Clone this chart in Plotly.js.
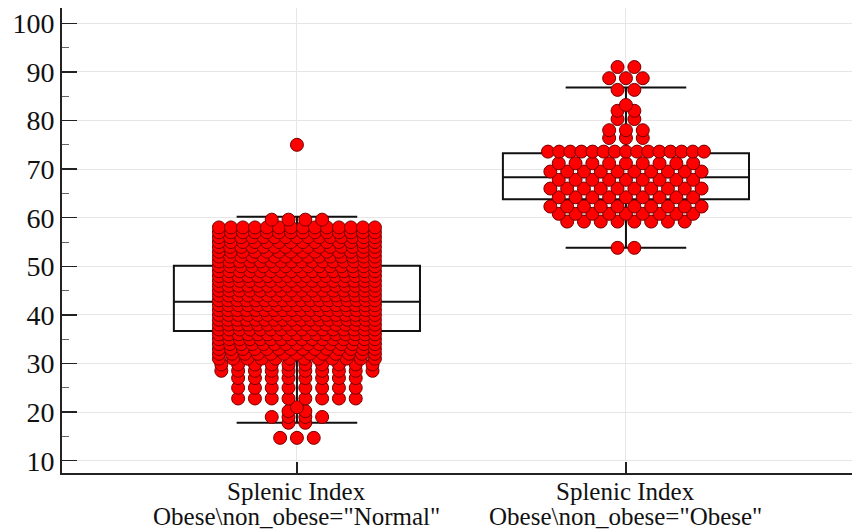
<!DOCTYPE html>
<html><head><meta charset="utf-8">
<script src="https://cdn.plot.ly/plotly-3.0.1.min.js"></script>
<style>html,body{margin:0;padding:0;background:#fff}#chart{width:852px;height:531px}</style>
</head><body><div id="chart"></div>
<script>
// ---- data ----
const categoryLine1 = ['Splenic Index', 'Splenic Index'];
const categoryLine2 = ['Obese\\non_obese="Normal"', 'Obese\\non_obese="Obese"'];
const categoryPos = [0, 1];

// dot-plot values (level) and how many observations sit at each level
const normalLevels = [14.7, 17.8, 19.0, 20.2, 21.0, 22.8, 25.0, 27.0, 28.5, 29.8,
  31, 32, 33, 34, 35, 36, 37, 38, 39, 40, 41, 42, 43, 44, 45, 46, 47, 48, 49, 50,
  51, 52, 53, 54, 55, 56, 57, 58, 59.6, 75.0];
const normalCounts = [3, 2, 4, 2, 1, 8, 8, 8, 10, 10,
  12, 13, 14, 15, 16, 17, 16, 17, 18, 17, 18, 17, 18, 17, 16, 17, 16, 17, 16, 15,
  16, 15, 14, 15, 14, 15, 14, 14, 4, 1];

const obeseLevels = [53.8, 59.2, 60.8, 62.3, 64.2, 66.0, 67.8, 69.5, 71.2, 73.6,
  76.4, 78.0, 80.3, 82.0, 83.2, 86.3, 88.7, 91.0];
const obeseCounts = [2, 8, 9, 10, 9, 10, 9, 10, 9, 15,
  3, 3, 2, 2, 1, 2, 3, 2];

// box statistics per group [Normal, Obese]
const boxQ1 = [36.7, 63.8];
const boxMedian = [42.7, 68.3];
const boxQ3 = [50.1, 73.25];
const boxLower = [17.8, 53.8];
const boxUpper = [60.2, 86.8];

// ---- layout constants ----
const W = 852, H = 531;
const M = {l: 62, r: 0, t: 8, b: 58};
const plotH = H - M.t - M.b;
const xRange = [-0.714, 1.687];
const yRange = [7.47, 103.15];
const pxPerX = (W - M.l - M.r) / (xRange[1] - xRange[0]);
const SLOT_PX = 16.8;     // horizontal gap between neighbouring dots
const MAX_SPAN_PX = 156;  // widest a row of dots may get

function swarm(levels, counts, gx) {
  const xs = [], ys = [];
  levels.forEach((v, i) => {
    const n = counts[i];
    const sp = n > 1 ? Math.min(SLOT_PX, MAX_SPAN_PX / (n - 1)) : 0;
    for (let k = 0; k < n; k++) {
      xs.push(gx + ((k - (n - 1) / 2) * sp) / pxPerX);
      ys.push(v);
    }
  });
  return {xs, ys};
}

const traces = [];
for (let g = 0; g < 2; g++) {
  traces.push({
    type: 'box', x: [categoryPos[g]],
    q1: [boxQ1[g]], median: [boxMedian[g]], q3: [boxQ3[g]],
    lowerfence: [boxLower[g]], upperfence: [boxUpper[g]],
    boxpoints: false, width: 0.748, whiskerwidth: 0.49,
    fillcolor: 'rgba(255,255,255,0)',
    line: {color: '#111', width: 2}, hoverinfo: 'skip', showlegend: false
  });
}
const groups = [[normalLevels, normalCounts], [obeseLevels, obeseCounts]];
groups.forEach((gr, g) => {
  const s = swarm(gr[0], gr[1], categoryPos[g]);
  traces.push({
    type: 'scatter', mode: 'markers', x: s.xs, y: s.ys,
    marker: {size: 13, color: '#ff0000', line: {color: 'rgb(115,0,0)', width: 1}},
    showlegend: false, hoverinfo: 'skip'
  });
});

const labelFont = {family: 'Liberation Serif, serif', size: 25, color: '#111'};
const annotations = [];
categoryPos.forEach((p, i) => {
  annotations.push({xref: 'x', yref: 'paper', x: p, y: -(492 - (H - M.b)) / plotH,
    text: categoryLine1[i], showarrow: false, xanchor: 'center', yanchor: 'middle', font: labelFont});
  annotations.push({xref: 'x', yref: 'paper', x: p, y: -(516 - (H - M.b)) / plotH,
    text: categoryLine2[i], showarrow: false, xanchor: 'center', yanchor: 'middle', font: labelFont});
});

const layout = {
  width: W, height: H, margin: M,
  paper_bgcolor: '#fff', plot_bgcolor: '#fff',
  showlegend: false, boxmode: 'overlay',
  annotations: annotations,
  xaxis: {
    range: xRange, tickmode: 'array', tickvals: categoryPos, showticklabels: false,
    ticks: 'inside', ticklen: 11, tickwidth: 1.5, tickcolor: '#222',
    showline: true, linewidth: 2, linecolor: '#222',
    showgrid: true, gridcolor: '#e6e6e6', gridwidth: 1, zeroline: false
  },
  yaxis: {
    range: yRange, tickmode: 'linear', tick0: 0, dtick: 10,
    ticks: 'inside', ticklen: 15, tickwidth: 1.5, tickcolor: '#222',
    minor: {ticks: 'inside', ticklen: 7, tickwidth: 1, tickcolor: '#666', dtick: 5, tick0: 5, showgrid: false},
    showline: true, linewidth: 2, linecolor: '#222',
    showgrid: true, gridcolor: '#e6e6e6', gridwidth: 1, zeroline: false,
    tickfont: {family: 'Liberation Serif, serif', size: 28, color: '#111'},
    ticklabelstandoff: 0
  }
};

Plotly.newPlot('chart', traces, layout, {staticPlot: true, displayModeBar: false});
</script>
</body></html>
